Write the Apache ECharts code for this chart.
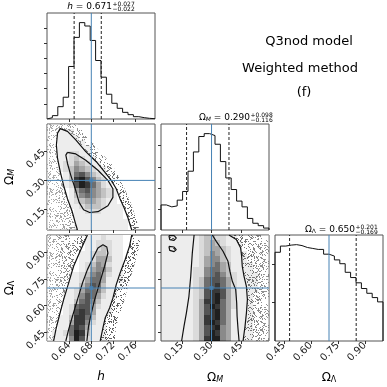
<!DOCTYPE html>
<html>
<head>
<meta charset="utf-8">
<script src="https://cdn.jsdelivr.net/npm/echarts@6/dist/echarts.min.js"></script>
<style>
  html, body { margin: 0; padding: 0; background: #fff; }
  #chart { width: 387px; height: 387px; }
</style>
</head>
<body>
<div id="chart"></div>
<script>
// axis ranges
const hRange = [0.60, 0.795];
const omRange = [0.045, 0.59];
const olRange = [0.40, 1.00];
const nBins = 20;

const hTicks = [0.64, 0.68, 0.72, 0.76];
const omTicks = [0.15, 0.30, 0.45];
const olTicks = [0.45, 0.60, 0.75, 0.90];

const truthH = 0.68, truthOm = 0.30, truthOl = 0.70;

// median, +err, -err
const hStat = [0.671, 0.027, 0.022];
const omStat = [0.290, 0.098, 0.116];
const olStat = [0.650, 0.201, 0.169];

// 1D histograms (20 bins each)
const hCounts = [1.4, 3.5, 12.8, 22.6, 54.5, 84.7, 100, 96.5, 81.5, 60.7, 43.4, 25.7, 16.3, 11.1, 6.9, 4.5, 2.4, 1.4, 0.7, 0.3];
const omCounts = [26, 24, 25, 31, 40, 61, 81, 97, 100, 98, 89, 71, 54, 42, 30, 24, 12, 7, 4.5, 2];
const olCounts = [93, 99.5, 100.5, 101, 100, 98, 97, 96, 96, 91, 89, 85, 81, 72, 66.5, 61, 55, 50, 45.5, 41];
const hHistTicks = [15.7, 31.4, 47.1, 62.8, 78.5, 94.2];
const omHistTicks = [21.5, 43.5, 65.5, 88];
const olHistTicks = [40.3, 80.6];

// 2D density grids, top row first, 0..9
const densA = [
  "00000000000000000000",
  "00111000000000000000",
  "00111100000000000000",
  "00111110000000000000",
  "00111111000000000000",
  "00112211000000000000",
  "00112321100000000000",
  "00122432110000000000",
  "00123543211000000000",
  "00013675321000000000",
  "00013897532000000000",
  "00012798642100000000",
  "00001467543210000000",
  "00001356543210000000",
  "00001234432110000000",
  "00001123332111000000",
  "00000112221111000000",
  "00000111111111000000",
  "00000111111111100000",
  "00000111111111100000"
];
const densB = [
  "00000001112111000000",
  "00000001122211000000",
  "00000001123211000000",
  "00000011233211000000",
  "00000011244311000000",
  "00000012354211000000",
  "00000012455311000000",
  "00001123564211000000",
  "00001124664111000000",
  "00001135763110000000",
  "00011246653110000000",
  "00011257642110000000",
  "00011367531100000000",
  "00012677421100000000",
  "00012787411100000000",
  "00113886311000000000",
  "00114885211000000000",
  "00116874111000000000",
  "01126983111000000000",
  "01115972111000000000"
];
const densC = [
  "11111112332211000000",
  "11111112343211100000",
  "11111112344321100000",
  "11111112354321110000",
  "11111112455321110000",
  "11111112456431111000",
  "11111122566431111000",
  "11111122567532111100",
  "11111123677642111100",
  "11111123678642111100",
  "11111123788742111100",
  "11111123789742111000",
  "11111124889642111000",
  "11111124798642111000",
  "11111124789641111000",
  "11111124889641111000",
  "11111124898641111000",
  "11111124789541111000",
  "11111124798541111000",
  "11111124899541111000"
];

// contours (data units)
const outerA = [[0.655,0.045],[0.651,0.083],[0.645,0.144],[0.637,0.205],[0.630,0.274],[0.624,0.344],[0.619,0.413],[0.617,0.482],[0.619,0.543],[0.624,0.566],[0.637,0.552],[0.652,0.508],[0.670,0.448],[0.689,0.396],[0.704,0.344],[0.716,0.300],[0.725,0.257],[0.732,0.205],[0.739,0.161],[0.746,0.109],[0.753,0.045]];
const innerA = [[0.637,0.444],[0.652,0.436],[0.670,0.404],[0.692,0.352],[0.710,0.300],[0.719,0.257],[0.719,0.213],[0.710,0.170],[0.692,0.139],[0.677,0.135],[0.666,0.149],[0.658,0.187],[0.651,0.257],[0.643,0.326],[0.637,0.387],[0.634,0.430],[0.637,0.444]];
const dotsEdgeA = [[0.655,0.59],[0.673,0.526],[0.695,0.448],[0.716,0.387],[0.728,0.326],[0.740,0.257],[0.751,0.187],[0.759,0.118],[0.767,0.045]];

const outerLeftB = [[0.673,1.0],[0.661,0.917],[0.648,0.823],[0.639,0.728],[0.630,0.634],[0.622,0.540],[0.616,0.464],[0.612,0.40]];
const outerRightB = [[0.753,1.0],[0.749,0.936],[0.741,0.860],[0.732,0.785],[0.725,0.719],[0.719,0.643],[0.713,0.587],[0.705,0.530],[0.701,0.474],[0.696,0.40]];
const innerB = [[0.634,0.40],[0.639,0.464],[0.646,0.540],[0.655,0.634],[0.664,0.728],[0.673,0.804],[0.683,0.870],[0.692,0.926],[0.701,0.945],[0.708,0.932],[0.710,0.898],[0.704,0.823],[0.695,0.728],[0.686,0.634],[0.680,0.558],[0.675,0.483],[0.672,0.40]];
const dotsRightB = [[0.770,1.0],[0.764,0.898],[0.755,0.804],[0.746,0.709],[0.740,0.634],[0.732,0.558],[0.725,0.483],[0.722,0.40]];

const outerRightC = [[0.388,1.0],[0.425,0.974],[0.447,0.926],[0.452,0.879],[0.455,0.823],[0.464,0.766],[0.476,0.709],[0.481,0.634],[0.476,0.558],[0.469,0.483],[0.459,0.40]];
const innerLeftC = [[0.212,1.0],[0.203,0.898],[0.195,0.766],[0.186,0.653],[0.173,0.558],[0.161,0.483],[0.149,0.40]];
const innerRightC = [[0.304,1.0],[0.324,0.964],[0.358,0.908],[0.383,0.851],[0.393,0.794],[0.405,0.738],[0.422,0.691],[0.427,0.615],[0.429,0.540],[0.434,0.464],[0.439,0.40]];
const islandC1 = [[0.085,0.996],[0.111,0.996],[0.122,0.983],[0.111,0.970],[0.089,0.974],[0.085,0.996]];
const islandC2 = [[0.085,0.936],[0.111,0.932],[0.122,0.917],[0.111,0.906],[0.089,0.913],[0.085,0.936]];

const FONT = "DejaVu Sans";
const TRUTH = "#4682b4";
const alphas = [0, 0.07, 0.14, 0.24, 0.35, 0.46, 0.57, 0.67, 0.78, 0.88];

// dotted texture for the sample points outside the contours
function stipple(dens, alpha) {
  const c = document.createElement("canvas");
  c.width = c.height = 64;
  const ctx = c.getContext("2d");
  ctx.fillStyle = "rgba(0,0,0," + alpha + ")";
  for (let y = 0; y < 64; y++) {
    for (let x = 0; x < 64; x++) {
      let k = Math.imul(x, 374761393) + Math.imul(y, 668265263);
      k = Math.imul(k ^ (k >>> 13), 1274126177);
      k ^= k >>> 16;
      if ((k >>> 0) % 1000 < dens * 1000) ctx.fillRect(x, y, 1, 1);
    }
  }
  return { image: c, repeat: "repeat" };
}
const dotsFill = stipple(0.24, 0.62);

// fade the dots away from the contours
function fade(toRight, strength) {
  const s = [
    { offset: 0, color: "rgba(255,255,255," + strength + ")" },
    { offset: 1, color: "rgba(255,255,255,0)" }
  ];
  return new echarts.graphic.LinearGradient(toRight ? 1 : 0, 0, toRight ? 0 : 1, 0, s);
}

const chart = echarts.init(document.getElementById("chart"));

const boxes = [
  [47, 13], [47, 124], [47, 235],
  [161, 124], [161, 235], [275, 235]
];

function fillSeries(gi, pts, fill, z) {
  return {
    type: "custom", xAxisIndex: gi, yAxisIndex: gi, silent: true, z,
    data: [pts[0]],
    renderItem: (p, api) => ({
      type: "polygon",
      shape: { points: pts.map((q) => api.coord(q)) },
      style: { fill }
    })
  };
}

function cellsSeries(gi, grid, xr, yr) {
  const dx = (xr[1] - xr[0]) / nBins, dy = (yr[1] - yr[0]) / nBins;
  const data = [];
  grid.forEach((row, r) => {
    row.split("").forEach((ch, c) => {
      const v = +ch;
      if (v > 0) data.push([xr[0] + c * dx, yr[1] - (r + 1) * dy, v]);
    });
  });
  return {
    type: "custom", xAxisIndex: gi, yAxisIndex: gi, silent: true, z: 3, data,
    renderItem: (p, api) => {
      const a = api.coord([api.value(0), api.value(1) + dy]);
      const b = api.coord([api.value(0) + dx, api.value(1)]);
      const x0 = Math.round(a[0]), y0 = Math.round(a[1]);
      const x1 = Math.round(b[0]), y1 = Math.round(b[1]);
      return {
        type: "rect",
        shape: { x: x0, y: y0, width: x1 - x0, height: y1 - y0 },
        style: { fill: "rgba(0,0,0," + alphas[api.value(2)] + ")" }
      };
    }
  };
}

function lineSeries(gi, pts, color, width, dash, z) {
  return {
    type: "line", xAxisIndex: gi, yAxisIndex: gi, data: pts, silent: true,
    symbol: "none", z: z || 4,
    lineStyle: { color, width, type: dash ? [3, 2] : "solid" }
  };
}

function histSeries(gi, counts, xr) {
  const w = (xr[1] - xr[0]) / counts.length;
  const pts = [[xr[0], 0]];
  counts.forEach((c, i) => pts.push([xr[0] + i * w, c]));
  pts.push([xr[1], counts[counts.length - 1]]);
  pts.push([xr[1], 0]);
  return {
    type: "line", xAxisIndex: gi, yAxisIndex: gi, data: pts, step: "end",
    symbol: "none", silent: true, z: 4,
    lineStyle: { color: "#111", width: 1 }
  };
}

const histMax = (c) => Math.max(...c) * 1.1;
const hMax = histMax(hCounts), omMax = histMax(omCounts), olMax = histMax(olCounts);

const nameRich = {
  o: { fontSize: 12, fontFamily: FONT, color: "#000" },
  s: { fontSize: 8, fontFamily: FONT, color: "#000", fontStyle: "italic", verticalAlign: "bottom", padding: [5, 0, 0, 0] },
  u: { fontSize: 8, fontFamily: FONT, color: "#000", verticalAlign: "bottom", padding: [5, 0, 0, 0] },
  i: { fontSize: 12, fontFamily: FONT, color: "#000", fontStyle: "italic" }
};

function axis(gi, range, ticks, showLabels, name, rot) {
  return {
    gridIndex: gi, type: "value", min: range[0], max: range[1],
    axisLine: { show: false },
    splitLine: { show: false },
    axisTick: { show: true, customValues: ticks, length: 3, lineStyle: { color: "#333", width: 1 } },
    axisLabel: {
      show: showLabels, customValues: ticks, rotate: 45, margin: 3,
      fontSize: 10, fontFamily: FONT, color: "#222",
      formatter: (v) => v.toFixed(2)
    },
    name: name || "", nameLocation: "middle", nameGap: rot ? 31 : 30, nameRotate: rot ? 90 : 0,
    nameTextStyle: { rich: nameRich }
  };
}

const leftA = [[hRange[0], omRange[1]], ...dotsEdgeA, [hRange[0], omRange[0]]];
const leftB = [[hRange[0], olRange[1]], ...outerLeftB, [hRange[0], olRange[0]]];
const rightC = [...outerRightC, [omRange[1], olRange[0]], [omRange[1], olRange[1]]];

const series = [
  // h histogram
  histSeries(0, hCounts, hRange),
  lineSeries(0, [[hStat[0] - hStat[2], 0], [hStat[0] - hStat[2], hMax]], "#222", 1, true),
  lineSeries(0, [[hStat[0] + hStat[1], 0], [hStat[0] + hStat[1], hMax]], "#222", 1, true),
  lineSeries(0, [[truthH, 0], [truthH, hMax]], TRUTH, 1, false, 5),
  // Omega_M histogram
  histSeries(3, omCounts, omRange),
  lineSeries(3, [[omStat[0] - omStat[2], 0], [omStat[0] - omStat[2], omMax]], "#222", 1, true),
  lineSeries(3, [[omStat[0] + omStat[1], 0], [omStat[0] + omStat[1], omMax]], "#222", 1, true),
  lineSeries(3, [[truthOm, 0], [truthOm, omMax]], TRUTH, 1, false, 5),
  // Omega_L histogram
  histSeries(5, olCounts, olRange),
  lineSeries(5, [[olStat[0] - olStat[2], 0], [olStat[0] - olStat[2], olMax]], "#222", 1, true),
  lineSeries(5, [[olStat[0] + olStat[1], 0], [olStat[0] + olStat[1], olMax]], "#222", 1, true),
  lineSeries(5, [[truthOl, 0], [truthOl, olMax]], TRUTH, 1, false, 5),

  // panel A: h vs Omega_M
  fillSeries(1, leftA, dotsFill, 1),
  fillSeries(1, leftA, fade(false, 0.5), 1),
  fillSeries(1, outerA, "#fff", 2),
  cellsSeries(1, densA, hRange, omRange),
  lineSeries(1, outerA, "#111", 1.2),
  lineSeries(1, innerA, "#111", 1.2),

  // panel B: h vs Omega_L
  fillSeries(2, leftB, dotsFill, 1),
  fillSeries(2, leftB, fade(false, 0.5), 1),
  fillSeries(2, [...outerRightB, ...dotsRightB.slice().reverse()], dotsFill, 1),
  fillSeries(2, [...outerLeftB, ...outerRightB.slice().reverse()], "#fff", 2),
  cellsSeries(2, densB, hRange, olRange),
  lineSeries(2, outerLeftB, "#111", 1.2),
  lineSeries(2, outerRightB, "#111", 1.2),
  lineSeries(2, innerB, "#111", 1.2),

  // panel C: Omega_M vs Omega_L
  fillSeries(4, rightC, dotsFill, 1),
  fillSeries(4, rightC, fade(true, 0.35), 1),
  fillSeries(4, islandC1, dotsFill, 2),
  fillSeries(4, islandC2, dotsFill, 2),
  cellsSeries(4, densC, omRange, olRange),
  lineSeries(4, outerRightC, "#111", 1.2),
  lineSeries(4, islandC1, "#111", 1.2),
  lineSeries(4, islandC2, "#111", 1.2),
  lineSeries(4, innerLeftC, "#111", 1.2),
  lineSeries(4, innerRightC, "#111", 1.2)
];

// truth cross-hairs in the 2D panels
[[1, truthH, truthOm, hRange, omRange], [2, truthH, truthOl, hRange, olRange], [4, truthOm, truthOl, omRange, olRange]]
  .forEach(([gi, tx, ty, xr, yr]) => {
    series.push(lineSeries(gi, [[tx, yr[0]], [tx, yr[1]]], TRUTH, 1, false, 5));
    series.push(lineSeries(gi, [[xr[0], ty], [xr[1], ty]], TRUTH, 1, false, 5));
    series.push({
      type: "scatter", xAxisIndex: gi, yAxisIndex: gi, data: [[tx, ty]], silent: true, z: 6,
      symbol: "rect", symbolSize: 4, itemStyle: { color: TRUTH }
    });
  });

function statTitle(x, y, rich, main, st) {
  return [
    { type: "text", x, y, style: { text: main, rich, textAlign: "right", align: "right", textVerticalAlign: "middle", verticalAlign: "middle", fontSize: 9, fontFamily: FONT, fill: "#000" } },
    { type: "text", x: x + 0.5, y: y - 3, style: { text: "+" + st[1].toFixed(3), textAlign: "left", align: "left", textVerticalAlign: "middle", verticalAlign: "middle", fontSize: 6, fontFamily: FONT, fill: "#000" } },
    { type: "text", x: x + 0.5, y: y + 2, style: { text: "\u2212" + st[2].toFixed(3), textAlign: "left", align: "left", textVerticalAlign: "middle", verticalAlign: "middle", fontSize: 6, fontFamily: FONT, fill: "#000" } }
  ];
}
const tRich = {
  t: { fontSize: 9, fontFamily: FONT, color: "#000" },
  i: { fontSize: 9, fontFamily: FONT, color: "#000", fontStyle: "italic" },
  s: { fontSize: 6, fontFamily: FONT, color: "#000", fontStyle: "italic", verticalAlign: "bottom", padding: [3, 0, 0, 0] },
  u: { fontSize: 6, fontFamily: FONT, color: "#000", verticalAlign: "bottom", padding: [3, 0, 0, 0] }
};

const graphics = [
  ...statTitle(112, 7, tRich, "{i|h}{t| = " + hStat[0].toFixed(3) + "}", hStat),
  ...statTitle(250, 118, tRich, "{t|\u03a9}{s|M}{t| = " + omStat[0].toFixed(3) + "}", omStat),
  ...statTitle(355, 230, tRich, "{t|\u03a9}{u|\u039b}{t| = " + olStat[0].toFixed(3) + "}", olStat),
  { type: "text", x: 309, y: 42, style: { text: "Q3nod model", textAlign: "center", align: "center", textVerticalAlign: "middle", verticalAlign: "middle", fontSize: 13, fontFamily: FONT, fill: "#000" } },
  { type: "text", x: 300, y: 69, style: { text: "Weighted method", textAlign: "center", align: "center", textVerticalAlign: "middle", verticalAlign: "middle", fontSize: 13, fontFamily: FONT, fill: "#000" } },
  { type: "text", x: 304, y: 93, style: { text: "(f)", textAlign: "center", align: "center", textVerticalAlign: "middle", verticalAlign: "middle", fontSize: 13, fontFamily: FONT, fill: "#000" } }
];

const options = {
  animation: false,
  textStyle: { fontFamily: FONT },
  grid: boxes.map(([l, t]) => ({
    left: l, top: t, width: 108, height: 106,
    show: true, borderColor: "#555", borderWidth: 1, backgroundColor: "transparent",
    containLabel: false, outerBoundsMode: "none"
  })),
  xAxis: [
    axis(0, hRange, hTicks, false),
    axis(1, hRange, hTicks, false),
    axis(2, hRange, hTicks, true, "{i|h}"),
    axis(3, omRange, omTicks, false),
    axis(4, omRange, omTicks, true, "{o|\u03a9}{s|M}"),
    axis(5, olRange, olTicks, true, "{o|\u03a9}{u|\u039b}")
  ],
  yAxis: [
    axis(0, [0, hMax], hHistTicks, false),
    axis(1, omRange, omTicks, true, "{o|\u03a9}{s|M}", true),
    axis(2, olRange, olTicks, true, "{o|\u03a9}{u|\u039b}", true),
    axis(3, [0, omMax], omHistTicks, false),
    axis(4, olRange, olTicks, false),
    axis(5, [0, olMax], olHistTicks, false)
  ],
  series,
  graphic: graphics
};

chart.setOption(options);

window.addEventListener("resize", () => chart.resize());
</script>
</body>
</html>
